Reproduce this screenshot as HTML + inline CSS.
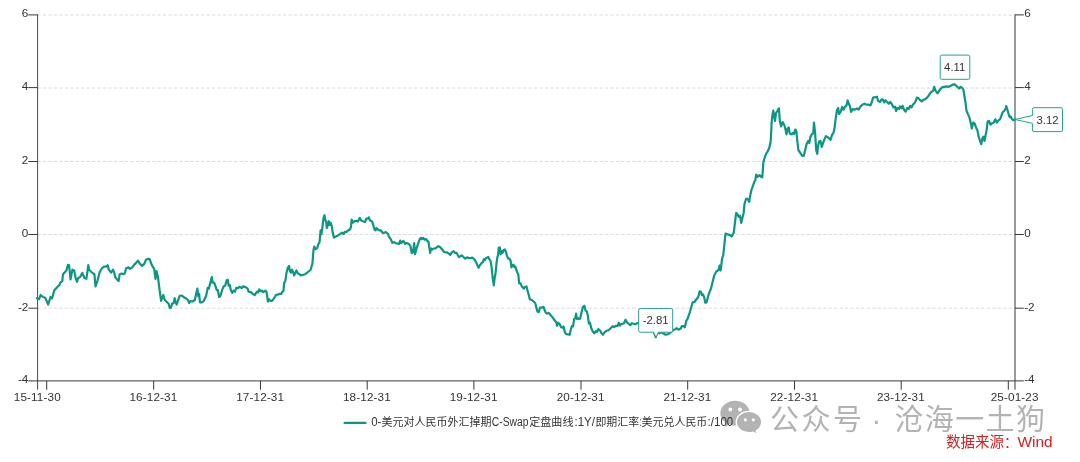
<!DOCTYPE html>
<html lang="zh"><head><meta charset="utf-8"><title>C-Swap chart</title>
<style>html,body{margin:0;padding:0;background:#fff;}body{width:1080px;height:462px;overflow:hidden;font-family:"Liberation Sans",sans-serif;}svg{display:block;will-change:transform;}text{font-family:"Liberation Sans","Noto Sans CJK SC",sans-serif;}</style>
</head><body>
<svg role="img" width="1080" height="462" viewBox="0 0 1080 462">
<g stroke="#dcdcdc" stroke-width="1" stroke-dasharray="3.45 2.006" fill="none">
<path d="M37.4 15.0H1014.4"/>
<path d="M37.4 88.0H1014.4"/>
<path d="M37.4 161.5H1014.4"/>
<path d="M37.4 234.5H1014.4"/>
<path d="M37.4 308.2H1014.4"/>
</g>
<g stroke="#383838" stroke-width="1" fill="none">
<path d="M37.6 14.4V389.7" stroke="#484848"/>
<path d="M1015.0 14.4V389.7"/>
<path d="M28.3 380.9H1023.8"/>
</g>
<g stroke="#383838" stroke-width="1" fill="none">
<path d="M28.3 14.9H37.6"/>
<path d="M1015.0 14.9H1023.8"/>
<path d="M28.3 87.6H37.6"/>
<path d="M1015.0 87.6H1023.8"/>
<path d="M28.3 161.5H37.6"/>
<path d="M1015.0 161.5H1023.8"/>
<path d="M28.3 234.5H37.6"/>
<path d="M1015.0 234.5H1023.8"/>
<path d="M28.3 308.2H37.6"/>
<path d="M1015.0 308.2H1023.8"/>
<path d="M46.7 380.9V389.7"/>
<path d="M153.7 380.9V389.7"/>
<path d="M260.5 380.9V389.7"/>
<path d="M367.2 380.9V389.7"/>
<path d="M473.9 380.9V389.7"/>
<path d="M581.0 380.9V389.7"/>
<path d="M687.7 380.9V389.7"/>
<path d="M794.5 380.9V389.7"/>
<path d="M901.2 380.9V389.7"/>
<path d="M1008.3 380.9V389.7"/>
</g>
<g font-size="11.7" fill="#333">
<text x="28.3" y="17.3" text-anchor="end">6</text>
<text x="1024.2" y="17.3">6</text>
<text x="28.3" y="90.0" text-anchor="end">4</text>
<text x="1024.2" y="90.0">4</text>
<text x="28.3" y="163.9" text-anchor="end">2</text>
<text x="1024.2" y="163.9">2</text>
<text x="28.3" y="236.9" text-anchor="end">0</text>
<text x="1024.2" y="236.9">0</text>
<text x="28.3" y="310.6" text-anchor="end">-2</text>
<text x="1024.2" y="310.6">-2</text>
<text x="28.3" y="383.3" text-anchor="end">-4</text>
<text x="1024.2" y="383.3">-4</text>
<text x="37.3" y="400.9" text-anchor="middle" letter-spacing="0.14">15-11-30</text>
<text x="153.4" y="400.9" text-anchor="middle" letter-spacing="0.14">16-12-31</text>
<text x="260.2" y="400.9" text-anchor="middle" letter-spacing="0.14">17-12-31</text>
<text x="366.9" y="400.9" text-anchor="middle" letter-spacing="0.14">18-12-31</text>
<text x="473.6" y="400.9" text-anchor="middle" letter-spacing="0.14">19-12-31</text>
<text x="580.7" y="400.9" text-anchor="middle" letter-spacing="0.14">20-12-31</text>
<text x="687.4" y="400.9" text-anchor="middle" letter-spacing="0.14">21-12-31</text>
<text x="794.2" y="400.9" text-anchor="middle" letter-spacing="0.14">22-12-31</text>
<text x="900.9" y="400.9" text-anchor="middle" letter-spacing="0.14">23-12-31</text>
<text x="1014.7" y="400.9" text-anchor="middle" letter-spacing="0.14">25-01-23</text>
</g>
<g fill="#b3b3b3" aria-label="公众号 · 沧海一土狗">
<path d="M735 400.700c-8.100 0-14.700 5.600-14.700 12.500 0 3.900 2.100 7.400 5.400 9.700l-1 4.300 4.600-2.600c1.800 0.600 3.700 0.900 5.700 0.900 8.100 0 14.700-5.600 14.700-12.500S743.100 400.700 735 400.700z"/>
<path d="M749 411.400c-7 0-12.700 4.800-12.700 10.700s5.700 10.700 12.700 10.700c1.500 0 2.900-0.200 4.300-0.600l4.200 2.400-1.100-3.700c3.200-1.900 5.300-5.100 5.300-8.800C761.700 416.200 756 411.400 749 411.400z" stroke="#fff" stroke-width="1.4"/>
<g fill="#fff"><circle cx="730.3" cy="409.5" r="1.9"/><circle cx="740" cy="409.5" r="1.9"/><circle cx="745.4" cy="419.8" r="1.6"/><circle cx="753.3" cy="419.8" r="1.6"/></g>
<text x="770" y="429.5" font-size="29" textLength="92" lengthAdjust="spacing">公众号</text>
<text x="876.3" y="429.5" font-size="29" text-anchor="middle">·</text>
<text x="894.5" y="429.5" font-size="29" textLength="150.5" lengthAdjust="spacing">沧海一土狗</text>
</g>
<path d="M36.8 298.2 39.1 299.2 40.6 295.0 42.9 297.0 45.2 297.7 48.2 304.5 50.5 297.0 52.0 298.5 54.2 290.6 57.3 287.1 59.5 284.8 60.3 282.6 62.3 281.1 63.0 274.2 66.4 270.5 67.9 264.8 69.1 265.2 70.5 279.5 72.4 269.7 74.2 270.5 75.5 277.3 77.0 281.8 78.2 278.0 80.0 277.3 82.3 273.0 84.5 278.0 86.4 278.8 88.3 265.2 89.1 269.7 91.4 272.0 93.3 273.5 94.4 274.2 95.5 286.4 97.4 281.1 99.7 272.0 102.0 268.2 104.2 266.7 106.5 266.4 107.7 265.2 108.8 269.7 111.1 272.7 112.9 269.7 114.1 272.0 115.3 277.3 117.1 279.5 118.6 281.1 119.7 274.2 121.7 273.5 123.2 274.2 124.7 273.5 126.2 268.2 128.5 267.4 130.0 268.9 132.3 267.4 134.5 264.4 136.1 262.9 137.9 260.6 139.8 263.6 142.1 265.9 144.4 263.6 145.9 259.8 148.2 258.8 149.7 259.1 151.2 263.6 152.7 266.7 154.2 268.9 155.5 278.8 156.5 271.2 158.0 277.3 159.5 289.4 161.1 300.8 163.3 295.0 164.8 300.0 167.1 302.3 168.6 303.8 169.7 307.6 169.8 307.9 170.9 307.6 172.1 303.8 173.6 303.0 174.7 298.2 175.6 302.3 176.7 304.5 178.2 300.0 179.7 295.9 182.0 295.5 183.5 297.0 185.8 298.2 188.0 300.0 189.2 303.0 190.3 301.2 192.6 301.5 194.8 300.0 196.1 293.9 197.4 288.6 198.2 296.2 199.1 293.9 200.0 302.3 201.7 302.3 203.9 300.8 206.2 295.5 207.7 287.9 208.8 288.6 210.0 284.1 211.8 277.0 212.6 282.6 214.2 282.6 215.8 287.1 216.8 290.2 217.9 290.2 219.1 297.0 220.3 296.2 222.1 290.2 223.6 286.4 225.2 285.6 226.7 280.3 227.9 279.8 228.6 285.6 229.7 284.8 230.9 290.2 232.4 292.9 233.5 290.6 235.0 291.7 236.2 287.9 238.0 288.2 239.5 286.8 241.8 287.9 243.3 286.4 245.6 287.1 247.6 288.6 248.6 291.7 250.9 292.1 252.7 293.9 254.7 295.0 257.0 291.7 258.2 292.4 259.2 289.4 260.8 291.2 261.8 290.6 263.3 292.1 265.3 290.6 266.5 291.7 267.9 301.5 269.1 299.2 270.3 300.8 272.1 300.8 274.4 297.7 275.9 295.0 277.4 294.7 279.7 293.9 281.2 293.9 282.4 291.7 283.5 290.9 284.2 282.6 285.3 281.1 286.5 272.7 288.0 267.4 289.1 265.9 290.0 271.2 291.1 272.7 292.1 269.7 293.3 272.7 294.1 275.5 295.3 272.7 296.4 270.5 297.9 273.5 299.7 274.2 300.6 275.5 305.2 274.2 310.5 270.0 312.4 263.6 313.5 250.0 314.2 246.7 315.8 249.2 317.3 247.7 318.5 243.9 319.5 242.4 320.6 230.3 321.5 234.1 322.6 225.8 323.6 217.4 324.5 215.2 325.3 220.5 326.1 221.2 326.8 228.0 327.9 225.0 328.8 221.2 329.7 225.0 330.6 222.7 331.7 225.8 332.7 232.6 333.9 237.6 335.5 236.7 337.7 235.6 340.0 234.1 342.0 232.6 343.5 234.1 344.8 231.8 346.1 232.1 347.6 230.8 349.8 229.5 350.9 227.3 351.7 219.7 352.9 222.7 354.4 221.2 356.7 220.9 357.9 221.5 359.7 217.9 361.2 220.5 363.5 221.5 365.0 222.0 366.2 218.9 368.0 218.2 368.8 217.4 370.0 220.5 371.8 221.2 373.3 225.0 374.5 229.5 375.6 230.3 376.4 228.0 377.9 229.5 379.4 230.3 380.9 230.3 382.4 232.6 383.9 233.0 385.8 232.1 387.7 233.6 389.2 237.1 390.8 239.1 392.3 242.9 393.8 242.1 396.1 243.2 399.1 243.9 400.2 240.6 401.1 243.2 403.3 240.9 405.2 243.9 406.7 242.9 408.9 243.9 410.5 246.2 411.7 253.0 412.7 252.3 413.5 248.5 414.2 243.2 415.0 254.2 416.5 248.5 418.0 243.9 420.0 238.6 421.1 237.9 421.8 239.1 423.3 237.9 424.5 239.7 426.1 239.1 427.1 240.6 428.6 242.1 429.1 246.2 430.2 253.0 430.9 248.5 432.4 249.5 433.6 248.5 435.2 248.5 436.7 247.4 438.2 246.2 440.0 247.0 442.0 249.2 444.2 252.0 446.5 252.3 448.8 253.5 450.3 255.0 451.8 252.3 453.6 251.1 455.2 253.0 456.4 252.7 457.9 255.3 459.1 257.1 460.6 256.1 461.7 255.3 463.2 256.8 465.2 258.6 467.0 257.3 468.8 258.0 470.8 258.0 472.3 257.6 474.2 259.1 476.1 262.1 477.6 265.9 478.6 267.7 479.8 265.2 481.4 263.2 482.9 262.1 483.9 259.1 484.8 260.2 485.9 258.3 487.0 257.6 488.2 256.8 489.2 259.1 490.5 260.6 491.5 266.7 492.7 278.0 493.8 285.3 494.7 278.0 495.5 273.5 496.5 263.6 497.3 257.6 498.0 255.3 498.8 247.7 499.8 247.4 500.6 254.5 501.5 250.8 502.6 253.0 503.6 250.0 504.8 249.5 506.1 252.3 507.1 256.1 508.2 258.6 509.4 258.6 510.6 260.6 511.4 267.4 512.4 265.2 513.5 264.7 514.4 267.1 515.5 266.7 517.0 272.0 518.2 273.8 519.2 283.3 520.5 283.3 521.8 286.4 523.8 288.6 524.8 287.1 526.5 286.4 527.6 290.9 528.8 295.0 529.8 299.2 531.8 300.0 533.6 301.5 535.2 303.0 536.4 307.6 537.4 311.4 538.9 312.1 540.0 307.6 542.0 307.6 543.5 306.8 544.5 309.8 545.8 312.9 547.3 313.6 548.8 312.9 550.3 314.7 552.6 317.4 554.8 320.5 556.4 322.7 557.1 325.8 558.2 322.7 559.7 324.2 561.2 327.3 562.4 327.7 563.6 326.5 564.7 331.8 566.2 334.1 568.2 334.4 569.7 334.8 570.8 329.5 571.8 326.2 573.0 326.5 574.2 318.9 575.3 318.2 576.1 313.6 576.8 318.9 578.3 318.2 579.1 318.9 580.2 318.6 581.4 312.9 582.9 306.8 584.4 305.8 585.5 310.6 586.7 311.4 587.7 314.7 588.9 323.5 590.0 322.7 591.2 328.0 592.7 331.4 594.2 333.3 595.8 331.1 597.0 331.8 598.3 329.1 600.0 330.3 601.5 333.3 603.0 334.8 604.5 332.3 606.4 330.8 608.6 330.3 610.9 328.0 612.7 326.2 614.2 327.0 615.8 325.8 617.7 325.8 618.8 322.7 620.0 325.5 621.5 323.8 623.8 323.5 625.6 319.7 627.1 322.7 629.1 324.2 630.3 325.3 631.8 323.2 633.6 323.8 635.2 324.2 637.0 323.2 638.5 322.7 638.8 323.2 641.4 325.5 643.6 327.0 645.9 325.5 648.2 327.7 650.5 328.8 652.7 330.8 654.2 333.0 655.8 337.3 657.0 333.0 658.0 332.7 659.5 333.3 661.1 332.3 662.6 333.0 665.6 334.8 667.9 334.2 670.9 332.3 673.2 330.0 675.5 329.2 676.5 328.2 678.5 329.7 680.8 328.5 681.8 326.2 683.8 326.2 684.8 327.3 686.4 320.6 687.6 318.6 689.1 314.5 690.6 309.5 692.1 304.2 692.9 302.0 694.4 302.0 695.9 300.0 698.2 297.0 699.7 291.4 700.9 291.8 702.0 295.2 703.0 294.4 704.2 297.4 705.3 302.7 706.5 302.4 708.0 296.7 709.5 292.1 711.1 288.3 712.3 283.0 714.3 275.2 716.2 271.7 718.6 270.0 719.5 265.7 720.7 270.5 722.1 258.6 723.3 255.0 724.5 243.1 725.5 233.6 727.4 234.3 729.8 234.8 731.7 236.4 733.8 232.4 735.2 220.5 736.2 212.9 737.6 214.5 738.8 216.9 740.0 215.7 741.2 222.9 742.4 218.1 743.6 213.3 744.5 203.8 746.0 199.0 747.1 198.6 748.3 200.2 749.3 201.9 750.0 196.7 751.2 190.7 752.9 186.0 754.3 181.9 755.2 180.5 756.2 174.7 757.7 176.8 759.5 175.1 761.0 176.8 762.3 177.3 763.4 162.1 764.9 156.7 766.4 153.4 767.7 151.3 769.2 148.0 770.7 141.5 771.6 123.1 772.5 114.5 773.3 110.6 774.2 116.6 775.1 121.0 775.9 113.4 777.2 111.2 778.3 109.1 779.0 108.4 779.8 121.0 781.1 126.4 782.6 122.1 784.4 125.3 785.5 129.6 786.5 134.4 787.6 128.5 788.7 127.5 789.8 133.5 791.5 134.4 793.0 132.9 794.1 134.0 795.2 129.6 796.3 130.7 797.4 141.5 798.4 150.2 800.6 153.4 802.3 156.0 803.9 155.6 805.4 149.1 806.7 143.7 808.2 140.9 809.3 143.1 810.3 137.2 811.9 134.0 813.2 133.5 814.0 122.7 815.1 132.9 816.2 150.2 817.3 153.9 817.9 146.9 819.0 141.5 820.5 140.9 821.8 146.9 822.9 143.7 824.4 139.4 825.9 136.1 827.7 137.2 829.2 138.3 830.5 140.0 832.0 135.0 833.5 132.9 834.6 127.5 835.9 116.6 837.0 110.2 838.1 108.0 839.1 114.0 840.6 111.9 842.2 106.9 843.5 109.7 845.0 106.9 846.5 105.4 847.6 100.4 848.9 104.1 850.0 106.3 851.0 111.9 852.6 109.1 854.7 109.7 856.9 108.4 858.6 109.7 860.1 106.9 862.3 104.7 864.5 103.7 866.6 104.7 868.8 104.7 870.5 105.4 872.0 101.5 873.1 97.6 875.3 97.2 877.0 96.7 878.1 101.1 880.0 101.9 881.6 99.4 882.7 99.4 884.2 102.4 885.5 100.2 887.1 101.9 888.8 103.7 890.3 101.9 891.8 104.1 893.5 107.4 895.1 106.7 896.1 111.0 897.4 108.0 899.0 108.9 900.0 106.3 901.6 108.4 902.6 105.8 903.9 109.5 905.5 111.7 907.2 108.0 908.7 108.9 910.2 105.8 911.5 107.4 913.0 104.5 914.5 103.0 915.8 100.9 916.9 97.6 918.4 98.1 920.2 100.2 921.7 101.5 923.2 99.8 924.9 99.4 927.1 97.6 928.8 95.5 930.3 92.9 931.9 91.6 933.2 90.7 934.2 86.8 935.8 91.1 937.5 93.3 939.0 91.1 940.5 89.0 942.3 87.2 944.4 86.8 946.6 86.4 948.7 86.8 950.9 85.7 953.1 84.6 954.6 84.2 956.3 85.7 957.8 87.2 959.1 88.5 960.6 86.8 962.2 87.9 963.5 90.0 964.5 96.5 965.6 103.0 966.5 110.6 967.8 113.9 969.3 117.1 970.4 121.4 971.9 128.4 973.2 122.5 974.7 123.6 976.2 127.9 977.5 130.5 978.6 136.6 980.1 140.9 981.2 144.2 982.3 138.7 983.4 136.6 984.5 140.9 985.5 135.5 986.6 130.1 987.7 121.4 989.2 121.0 990.5 124.7 992.0 123.2 993.8 122.5 995.3 119.3 996.8 122.5 998.5 120.3 1000.0 119.3 1002.8 112.0 1004.2 110.8 1005.4 109.4 1006.2 106.0 1007.3 109.4 1008.5 113.8 1009.7 117.2 1010.7 116.4 1011.9 119.0 1013.3 120.2 1015.1 119.5" fill="none" stroke="#0c9782" stroke-width="2.2" stroke-linejoin="round" stroke-linecap="round"/>
<path d="M640.3 308.6H671.1A1.6 1.6 0 0 1 672.7 310.2V330.6A1.6 1.6 0 0 1 671.1 332.2H658.4L656.0 337.4L653.6 332.2H640.3A1.6 1.6 0 0 1 638.7 330.6V310.2A1.6 1.6 0 0 1 640.3 308.6Z" fill="#fff" stroke="#27a08f" stroke-width="1" stroke-linejoin="round"/>
<text x="655.7" y="324.2" font-size="11.3" fill="#333" text-anchor="middle">-2.81</text>
<path d="M941.8 55.1H968.2A1.6 1.6 0 0 1 969.8 56.7V77.7A1.6 1.6 0 0 1 968.2 79.3H941.8A1.6 1.6 0 0 1 940.2 77.7V56.7A1.6 1.6 0 0 1 941.8 55.1Z" fill="#fff" stroke="#27a08f" stroke-width="1" stroke-linejoin="round"/>
<text x="954.7" y="71.0" font-size="11.3" fill="#333" text-anchor="middle">4.11</text>
<path d="M1034.0 107.7H1060.9A1.6 1.6 0 0 1 1062.5 109.3V130.0A1.6 1.6 0 0 1 1060.9 131.6H1034.0A1.6 1.6 0 0 1 1032.4 130.0V123.3L1015.0 119.5L1032.4 115.5V109.3A1.6 1.6 0 0 1 1034.0 107.7Z" fill="#fff" stroke="#27a08f" stroke-width="1" stroke-linejoin="round"/>
<text x="1047.5" y="123.5" font-size="11.3" fill="#333" text-anchor="middle">3.12</text>
<path d="M344.6 422.9H365.4" stroke="#0c9782" stroke-width="2.3" stroke-linecap="round" fill="none"/>
<g fill="#333" font-size="12" aria-label="0-美元对人民币外汇掉期C-Swap定盘曲线:1Y/即期汇率:美元兑人民币:/100">
<text x="371.2" y="425.9" textLength="10.2" lengthAdjust="spacingAndGlyphs">0-</text>
<text x="381.5" y="425.9" font-size="11" textLength="110" lengthAdjust="spacingAndGlyphs">美元对人民币外汇掉期</text>
<text x="491.8" y="425.9" textLength="36.6" lengthAdjust="spacingAndGlyphs">C-Swap</text>
<text x="529.2" y="425.9" font-size="11" textLength="44.3" lengthAdjust="spacingAndGlyphs">定盘曲线</text>
<text x="574.6" y="425.9" textLength="20.3" lengthAdjust="spacingAndGlyphs">:1Y/</text>
<text x="595.4" y="425.9" font-size="11" textLength="43.8" lengthAdjust="spacingAndGlyphs">即期汇率</text>
<text x="639.4" y="425.9" textLength="2.4" lengthAdjust="spacingAndGlyphs">:</text>
<text x="641.6" y="425.9" font-size="11" textLength="65.7" lengthAdjust="spacingAndGlyphs">美元兑人民币</text>
<text x="707.6" y="425.9" textLength="25.6" lengthAdjust="spacingAndGlyphs">:/100</text>
</g>
<g fill="#d81e1e" aria-label="数据来源：Wind">
<text x="946" y="447.3" font-size="14.5" textLength="58" lengthAdjust="spacingAndGlyphs">数据来源</text>
<text x="1004" y="447.3" font-size="14">：</text>
<text x="1017.4" y="447.3" font-size="14" textLength="35.2" lengthAdjust="spacingAndGlyphs">Wind</text>
</g>
</svg></body></html>
